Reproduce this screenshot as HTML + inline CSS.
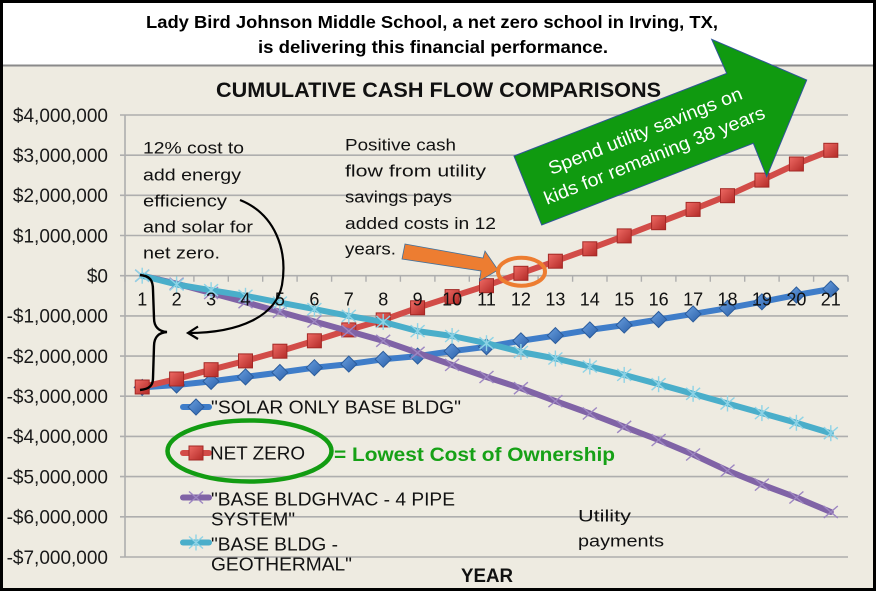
<!DOCTYPE html>
<html><head><meta charset="utf-8"><style>html,body{margin:0;padding:0;background:#fff}svg{display:block}</style></head>
<body>
<svg width="878" height="594" viewBox="0 0 878 594" xmlns="http://www.w3.org/2000/svg" xmlns:xlink="http://www.w3.org/1999/xlink" font-family="'Liberation Sans', Arial, sans-serif">
<defs>
<linearGradient id="rg" x1="0" y1="0" x2="1" y2="1"><stop offset="0" stop-color="#EE6A64"/><stop offset="1" stop-color="#B32A27"/></linearGradient>
<linearGradient id="bg" x1="0" y1="0" x2="1" y2="1"><stop offset="0" stop-color="#6AA0E0"/><stop offset="1" stop-color="#2A5FA8"/></linearGradient>
<g id="sq"><rect x="-7" y="-7" width="14" height="14" fill="url(#rg)" stroke="#A32825" stroke-width="1"/></g>
<g id="dm"><polygon points="0,-8 8,0 0,8 -8,0" fill="url(#bg)" stroke="#2B5C9C" stroke-width="1"/></g>
<g id="px" stroke="#9D86C2" stroke-width="1.4"><line x1="-7" y1="-6" x2="7" y2="6"/><line x1="-7" y1="6" x2="7" y2="-6"/></g>
<g id="cx" stroke="#8ED3E6" stroke-width="1.4"><line x1="-7" y1="-6" x2="7" y2="6"/><line x1="-7" y1="6" x2="7" y2="-6"/><line x1="0" y1="-8" x2="0" y2="8"/></g>
</defs>

<rect x="0" y="0" width="878" height="594" fill="#fff"/>
<rect x="3" y="66" width="870" height="522" fill="#EEEBE1"/>
<rect x="3" y="3" width="870" height="62" fill="#fff"/>
<line x1="3" y1="65.5" x2="873" y2="65.5" stroke="#8A8A8A" stroke-width="2"/>
<rect x="1.5" y="1.5" width="873" height="588" fill="none" stroke="#000" stroke-width="3"/>

<!-- top heading -->
<text x="146" y="28" font-size="17.5" font-weight="bold" fill="#000" textLength="572" lengthAdjust="spacingAndGlyphs">Lady Bird Johnson Middle School, a net zero school in Irving, TX,</text>
<text x="258" y="53" font-size="17.5" font-weight="bold" fill="#000" textLength="350" lengthAdjust="spacingAndGlyphs">is delivering this financial performance.</text>

<!-- chart title -->
<text x="216" y="97" font-size="21" font-weight="bold" fill="#111" textLength="445" lengthAdjust="spacingAndGlyphs">CUMULATIVE CASH FLOW COMPARISONS</text>

<!-- gridlines -->
<g stroke="#AEAEAE" stroke-width="1.6">
<line x1="120" y1="115.0" x2="848" y2="115.0"/>
<line x1="120" y1="155.2" x2="848" y2="155.2"/>
<line x1="120" y1="195.3" x2="848" y2="195.3"/>
<line x1="120" y1="235.5" x2="848" y2="235.5"/>
<line x1="120" y1="275.7" x2="848" y2="275.7"/>
<line x1="120" y1="315.9" x2="848" y2="315.9"/>
<line x1="120" y1="356.1" x2="848" y2="356.1"/>
<line x1="120" y1="396.2" x2="848" y2="396.2"/>
<line x1="120" y1="436.4" x2="848" y2="436.4"/>
<line x1="120" y1="476.6" x2="848" y2="476.6"/>
<line x1="120" y1="516.8" x2="848" y2="516.8"/>
<line x1="120" y1="557.0" x2="848" y2="557.0"/>
<line x1="125" y1="115" x2="125" y2="557"/>
</g>
<path stroke="#AEAEAE" stroke-width="1.4" fill="none" d="M125,275.7v6 M159.4,275.7v6 M193.9,275.7v6 M228.3,275.7v6 M262.7,275.7v6 M297.1,275.7v6 M331.6,275.7v6 M366,275.7v6 M400.4,275.7v6 M434.9,275.7v6 M469.3,275.7v6 M503.7,275.7v6 M538.1,275.7v6 M572.6,275.7v6 M607,275.7v6 M641.4,275.7v6 M675.9,275.7v6 M710.3,275.7v6 M744.7,275.7v6 M779.1,275.7v6 M813.6,275.7v6 M848,275.7v6"/>

<!-- series: solar (blue) -->
<polyline fill="none" stroke="#3F7DC9" stroke-width="6" stroke-linejoin="round" stroke-linecap="round" points="142.2,387.4 176.6,385.0 211.1,381.4 245.5,376.9 279.9,372.5 314.4,367.7 348.8,364.1 383.2,359.3 417.6,356.1 452.1,351.2 486.5,346.8 520.9,340.8 555.4,335.6 589.8,329.9 624.2,325.1 658.6,319.5 693.1,313.9 727.5,308.2 761.9,301.8 796.4,295.0 830.8,289.0"/>
<g>
<use xlink:href="#dm" x="142.2" y="387.4"/><use xlink:href="#dm" x="176.6" y="385.0"/><use xlink:href="#dm" x="211.1" y="381.4"/><use xlink:href="#dm" x="245.5" y="376.9"/><use xlink:href="#dm" x="279.9" y="372.5"/><use xlink:href="#dm" x="314.4" y="367.7"/><use xlink:href="#dm" x="348.8" y="364.1"/><use xlink:href="#dm" x="383.2" y="359.3"/><use xlink:href="#dm" x="417.6" y="356.1"/><use xlink:href="#dm" x="452.1" y="351.2"/><use xlink:href="#dm" x="486.5" y="346.8"/><use xlink:href="#dm" x="520.9" y="340.8"/><use xlink:href="#dm" x="555.4" y="335.6"/><use xlink:href="#dm" x="589.8" y="329.9"/><use xlink:href="#dm" x="624.2" y="325.1"/><use xlink:href="#dm" x="658.6" y="319.5"/><use xlink:href="#dm" x="693.1" y="313.9"/><use xlink:href="#dm" x="727.5" y="308.2"/><use xlink:href="#dm" x="761.9" y="301.8"/><use xlink:href="#dm" x="796.4" y="295.0"/><use xlink:href="#dm" x="830.8" y="289.0"/>
</g>

<!-- series: net zero (red) -->
<polyline fill="none" stroke="#D24C48" stroke-width="6" stroke-linejoin="round" stroke-linecap="round" points="142.2,387.0 176.6,379.0 211.1,369.7 245.5,360.9 279.9,351.2 314.4,340.8 348.8,329.9 383.2,319.9 417.6,307.8 452.1,296.6 486.5,285.7 520.9,273.3 555.4,261.2 589.8,248.8 624.2,235.9 658.6,222.7 693.1,209.4 727.5,195.7 761.9,180.1 796.4,164.0 830.8,150.3"/>
<g>
<use xlink:href="#sq" x="142.2" y="387.0"/><use xlink:href="#sq" x="176.6" y="379.0"/><use xlink:href="#sq" x="211.1" y="369.7"/><use xlink:href="#sq" x="245.5" y="360.9"/><use xlink:href="#sq" x="279.9" y="351.2"/><use xlink:href="#sq" x="314.4" y="340.8"/><use xlink:href="#sq" x="348.8" y="329.9"/><use xlink:href="#sq" x="383.2" y="319.9"/><use xlink:href="#sq" x="417.6" y="307.8"/><use xlink:href="#sq" x="452.1" y="296.6"/><use xlink:href="#sq" x="486.5" y="285.7"/><use xlink:href="#sq" x="520.9" y="273.3"/><use xlink:href="#sq" x="555.4" y="261.2"/><use xlink:href="#sq" x="589.8" y="248.8"/><use xlink:href="#sq" x="624.2" y="235.9"/><use xlink:href="#sq" x="658.6" y="222.7"/><use xlink:href="#sq" x="693.1" y="209.4"/><use xlink:href="#sq" x="727.5" y="195.7"/><use xlink:href="#sq" x="761.9" y="180.1"/><use xlink:href="#sq" x="796.4" y="164.0"/><use xlink:href="#sq" x="830.8" y="150.3"/>
</g>

<!-- series: purple -->
<polyline fill="none" stroke="#8063A6" stroke-width="6" stroke-linejoin="round" stroke-linecap="round" points="142.2,275.7 176.6,283.7 211.1,293.0 245.5,302.2 279.9,311.9 314.4,321.5 348.8,331.1 383.2,340.8 417.6,352.8 452.1,364.9 486.5,377.0 520.9,388.2 555.4,401.1 589.8,413.5 624.2,426.8 658.6,440.0 693.1,454.5 727.5,470.6 761.9,484.6 796.4,497.5 830.8,512.0"/>
<g>
<use xlink:href="#px" x="142.2" y="275.7"/><use xlink:href="#px" x="176.6" y="283.7"/><use xlink:href="#px" x="211.1" y="293.0"/><use xlink:href="#px" x="245.5" y="302.2"/><use xlink:href="#px" x="279.9" y="311.9"/><use xlink:href="#px" x="314.4" y="321.5"/><use xlink:href="#px" x="348.8" y="331.1"/><use xlink:href="#px" x="383.2" y="340.8"/><use xlink:href="#px" x="417.6" y="352.8"/><use xlink:href="#px" x="452.1" y="364.9"/><use xlink:href="#px" x="486.5" y="377.0"/><use xlink:href="#px" x="520.9" y="388.2"/><use xlink:href="#px" x="555.4" y="401.1"/><use xlink:href="#px" x="589.8" y="413.5"/><use xlink:href="#px" x="624.2" y="426.8"/><use xlink:href="#px" x="658.6" y="440.0"/><use xlink:href="#px" x="693.1" y="454.5"/><use xlink:href="#px" x="727.5" y="470.6"/><use xlink:href="#px" x="761.9" y="484.6"/><use xlink:href="#px" x="796.4" y="497.5"/><use xlink:href="#px" x="830.8" y="512.0"/>
</g>

<!-- series: cyan -->
<polyline fill="none" stroke="#4AAECA" stroke-width="6" stroke-linejoin="round" stroke-linecap="round" points="142.2,275.7 176.6,284.5 211.1,290.2 245.5,295.8 279.9,302.6 314.4,309.1 348.8,315.9 383.2,321.9 417.6,331.1 452.1,336.0 486.5,343.2 520.9,352.0 555.4,358.5 589.8,366.5 624.2,374.9 658.6,384.2 693.1,393.8 727.5,403.5 761.9,413.1 796.4,422.8 830.8,433.2"/>
<g>
<use xlink:href="#cx" x="142.2" y="275.7"/><use xlink:href="#cx" x="176.6" y="284.5"/><use xlink:href="#cx" x="211.1" y="290.2"/><use xlink:href="#cx" x="245.5" y="295.8"/><use xlink:href="#cx" x="279.9" y="302.6"/><use xlink:href="#cx" x="314.4" y="309.1"/><use xlink:href="#cx" x="348.8" y="315.9"/><use xlink:href="#cx" x="383.2" y="321.9"/><use xlink:href="#cx" x="417.6" y="331.1"/><use xlink:href="#cx" x="452.1" y="336.0"/><use xlink:href="#cx" x="486.5" y="343.2"/><use xlink:href="#cx" x="520.9" y="352.0"/><use xlink:href="#cx" x="555.4" y="358.5"/><use xlink:href="#cx" x="589.8" y="366.5"/><use xlink:href="#cx" x="624.2" y="374.9"/><use xlink:href="#cx" x="658.6" y="384.2"/><use xlink:href="#cx" x="693.1" y="393.8"/><use xlink:href="#cx" x="727.5" y="403.5"/><use xlink:href="#cx" x="761.9" y="413.1"/><use xlink:href="#cx" x="796.4" y="422.8"/><use xlink:href="#cx" x="830.8" y="433.2"/>
</g>

<!-- x labels -->
<g font-size="18" fill="#111" text-anchor="middle">
<text x="142.2" y="305.5">1</text><text x="176.6" y="305.5">2</text><text x="211.1" y="305.5">3</text><text x="245.5" y="305.5">4</text><text x="279.9" y="305.5">5</text><text x="314.4" y="305.5">6</text><text x="348.8" y="305.5">7</text><text x="383.2" y="305.5">8</text><text x="417.6" y="305.5">9</text><text x="452.1" y="305.5">10</text><text x="486.5" y="305.5">11</text><text x="520.9" y="305.5">12</text><text x="555.4" y="305.5">13</text><text x="589.8" y="305.5">14</text><text x="624.2" y="305.5">15</text><text x="658.6" y="305.5">16</text><text x="693.1" y="305.5">17</text><text x="727.5" y="305.5">18</text><text x="761.9" y="305.5">19</text><text x="796.4" y="305.5">20</text><text x="830.8" y="305.5">21</text>
</g>

<!-- y labels -->
<g font-size="19" fill="#1a1a1a" text-anchor="end">
<text x="108" y="121.8">$4,000,000</text>
<text x="108" y="162.0">$3,000,000</text>
<text x="108" y="202.1">$2,000,000</text>
<text x="108" y="242.3">$1,000,000</text>
<text x="108" y="282.5">$0</text>
<text x="108" y="322.7">-$1,000,000</text>
<text x="108" y="362.9">-$2,000,000</text>
<text x="108" y="403.0">-$3,000,000</text>
<text x="108" y="443.2">-$4,000,000</text>
<text x="108" y="483.4">-$5,000,000</text>
<text x="108" y="523.6">-$6,000,000</text>
<text x="108" y="563.8">-$7,000,000</text>
</g>

<!-- axis title -->
<text x="461" y="582" font-size="19" font-weight="bold" fill="#111" textLength="52" lengthAdjust="spacingAndGlyphs">YEAR</text>

<!-- legend -->
<g>
<line x1="183" y1="407" x2="209" y2="407" stroke="#3F7DC9" stroke-width="6" stroke-linecap="round"/><use xlink:href="#dm" x="196" y="407"/>
<line x1="183" y1="453" x2="209" y2="453" stroke="#D24C48" stroke-width="6" stroke-linecap="round"/><use xlink:href="#sq" x="196" y="453"/>
<line x1="183" y1="497.5" x2="209" y2="497.5" stroke="#8063A6" stroke-width="6" stroke-linecap="round"/><use xlink:href="#px" x="196" y="497.5"/>
<line x1="183" y1="542.5" x2="209" y2="542.5" stroke="#4AAECA" stroke-width="6" stroke-linecap="round"/><use xlink:href="#cx" x="196" y="542.5"/>
</g>
<g font-size="18.5" fill="#111">
<text x="211" y="413.5" textLength="250" lengthAdjust="spacingAndGlyphs">"SOLAR ONLY BASE BLDG"</text>
<text x="210" y="459.7" textLength="95" lengthAdjust="spacingAndGlyphs">NET ZERO</text>
<text x="211" y="505.5" textLength="244" lengthAdjust="spacingAndGlyphs">"BASE BLDGHVAC - 4 PIPE</text>
<text x="211" y="525.5" textLength="84" lengthAdjust="spacingAndGlyphs">SYSTEM"</text>
<text x="211" y="550.5" textLength="127" lengthAdjust="spacingAndGlyphs">"BASE BLDG -</text>
<text x="211" y="570.5" textLength="141" lengthAdjust="spacingAndGlyphs">GEOTHERMAL"</text>
</g>

<!-- green ellipse and label -->
<ellipse cx="249.5" cy="451" rx="82" ry="30.5" fill="none" stroke="#129C12" stroke-width="4.5"/>
<text x="334" y="461" font-size="19" font-weight="bold" fill="#16A116" textLength="281" lengthAdjust="spacingAndGlyphs">= Lowest Cost of Ownership</text>

<!-- annotations -->
<g font-size="17" fill="#111">
<text x="143" y="153.7" textLength="101" lengthAdjust="spacingAndGlyphs">12% cost to</text>
<text x="143" y="180.5" textLength="98" lengthAdjust="spacingAndGlyphs">add energy</text>
<text x="143" y="206.5" textLength="84" lengthAdjust="spacingAndGlyphs">efficiency</text>
<text x="143" y="232.5" textLength="110" lengthAdjust="spacingAndGlyphs">and solar for</text>
<text x="143" y="258.3" textLength="77" lengthAdjust="spacingAndGlyphs">net zero.</text>

<text x="345" y="150.7" textLength="111" lengthAdjust="spacingAndGlyphs">Positive cash</text>
<text x="345" y="176.7" textLength="141" lengthAdjust="spacingAndGlyphs">flow from utility</text>
<text x="345" y="202.5" textLength="107" lengthAdjust="spacingAndGlyphs">savings pays</text>
<text x="345" y="228.8" textLength="151" lengthAdjust="spacingAndGlyphs">added costs in 12</text>
<text x="345" y="254.3" textLength="51" lengthAdjust="spacingAndGlyphs">years.</text>

<text x="578" y="521.7" textLength="53" lengthAdjust="spacingAndGlyphs">Utility</text>
<text x="578" y="546.7" textLength="86" lengthAdjust="spacingAndGlyphs">payments</text>
</g>

<!-- black curved arrow -->
<path d="M240,200 C275,214 288,250 282,285 C276,316 240,333 188,333" fill="none" stroke="#000" stroke-width="2.2"/>
<path d="M198,326.5 L188,333 L198,339" fill="none" stroke="#000" stroke-width="2.2"/>

<!-- brace -->
<path d="M140,275 C150,276 153,280 153,290 L154,318 C154,327 159,331.5 167,332 C159,332.5 154,337 154,346 L153,378 C153,386 149,389 140,390" fill="none" stroke="#000" stroke-width="2.4"/>

<!-- orange arrow and circle -->
<polygon points="405,244 483,258 485,251 498,270 479.5,281 481,271 402,259" fill="#ED7D31" stroke="#41719C" stroke-width="0.8"/>
<ellipse cx="521.5" cy="271.7" rx="23.5" ry="14" fill="none" stroke="#ED7D31" stroke-width="4"/>

<!-- green arrow -->
<polygon points="514,156 726.7,73.3 711.7,39.3 806.7,80 766.7,176.7 753.3,143.3 541.7,225" fill="#109A10" stroke="#2F5597" stroke-width="1"/>
<g fill="#fff" font-size="18.5" text-anchor="middle">
<text transform="translate(647.5,136.7) rotate(-21.7)" textLength="207" lengthAdjust="spacingAndGlyphs">Spend utility savings on</text>
<text transform="translate(656.7,161.2) rotate(-21.7)" textLength="236" lengthAdjust="spacingAndGlyphs">kids for remaining 38 years</text>
</g>
</svg>
</body></html>
